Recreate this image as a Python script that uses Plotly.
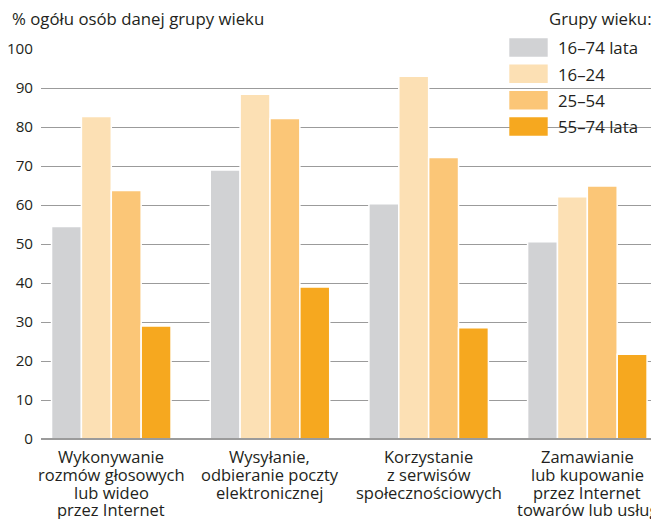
import plotly.graph_objects as go

# data
categories = [
    "Wykonywanie<br>rozmów głosowych<br>lub wideo<br>przez Internet",
    "Wysyłanie,<br>odbieranie poczty<br>elektronicznej",
    "Korzystanie<br>z serwisów<br>społecznościowych",
    "Zamawianie<br>lub kupowanie<br>przez Internet<br>towarów lub usług",
]
series_names = ["16–74 lata", "16–24", "25–54", "55–74 lata"]
vals_16_74 = [54.5, 69.0, 60.3, 50.6]
vals_16_24 = [82.7, 88.4, 93.0, 62.1]
vals_25_54 = [63.7, 82.2, 72.2, 64.9]
vals_55_74 = [29.0, 39.0, 28.5, 21.7]
series_values = [vals_16_74, vals_16_24, vals_25_54, vals_55_74]
y_ticks = [0, 10, 20, 30, 40, 50, 60, 70, 80, 90, 100]

colors = ["#d1d2d4", "#fce0b4", "#fbc677", "#f6a81f"]
TEXT = "#231f20"
FONT = "Open Sans"

# page has an 8px body margin, so the figure is a bit smaller than the window
OFF = 8
PLOT_L, PLOT_R, PLOT_T, PLOT_B = 41, 657, 49, 439  # plot area in window pixels


def px(sx):
    return (sx - PLOT_L) / (PLOT_R - PLOT_L)


def py(sy):
    return 1 - (sy - PLOT_T) / (PLOT_B - PLOT_T)


fig = go.Figure()

for name, vals, col in zip(series_names, series_values, colors):
    fig.add_trace(go.Bar(
        x=list(range(len(categories))),
        y=vals,
        name=name,
        marker=dict(color=col, line=dict(color="white", width=1.5)),
        showlegend=False,
    ))

# custom legend with big swatches (top right)
fig.add_annotation(
    x=px(654), y=py(18.5), xref="paper", yref="paper",
    text="Grupy wieku:", showarrow=False, xanchor="right", yanchor="middle",
    font=dict(size=16.8, color=TEXT, family=FONT),
)
for i, (name, col) in enumerate(zip(series_names, colors)):
    y_top = 38.3 + i * 26.3
    fig.add_shape(
        type="rect", xref="paper", yref="paper",
        x0=px(509.3), x1=px(547.7),
        y0=py(y_top + 18.5), y1=py(y_top),
        fillcolor=col, line=dict(width=0), layer="above",
    )
    fig.add_annotation(
        x=px(556), y=py(y_top + 9.5),
        xref="paper", yref="paper", text=name, showarrow=False,
        xanchor="left", yanchor="middle",
        font=dict(size=16.8, color=TEXT, family=FONT),
    )

# y axis title as annotation
fig.add_annotation(
    x=px(10), y=py(18.5), xref="paper", yref="paper",
    text="% ogółu osób danej grupy wieku", showarrow=False,
    xanchor="left", yanchor="middle",
    font=dict(size=16.8, color=TEXT, family=FONT),
)

# category labels, one line at a time for tight leading
for i, cat in enumerate(categories):
    for j, line in enumerate(cat.split("<br>")):
        fig.add_annotation(
            x=i, y=py(456.5 + j * 17.8), xref="x", yref="paper",
            text=line, showarrow=False, xanchor="center", yanchor="middle",
            font=dict(size=16.5, color=TEXT, family=FONT),
        )

fig.update_xaxes(
    range=[-0.443, 3.439],
    showgrid=False,
    zeroline=False,
    showline=False,
    showticklabels=False,
    ticks="",
    automargin=False,
)
fig.update_yaxes(
    range=[0, 100],
    tickvals=y_ticks,
    showgrid=True,
    gridcolor="#9b9b9b",
    gridwidth=1,
    zeroline=True,
    zerolinecolor="#9b9b9b",
    zerolinewidth=2,
    zerolinelayer="above traces",
    ticks="",
    ticklabelstandoff=7,
    tickfont=dict(size=15.2, color=TEXT, family=FONT),
    automargin=False,
)

fig.update_layout(
    barmode="group",
    bargap=0.247,
    bargroupgap=0,
    width=659 - OFF,
    height=519 - OFF,
    margin=dict(l=PLOT_L - OFF, r=659 - PLOT_R, t=PLOT_T - OFF, b=519 - PLOT_B),
    plot_bgcolor="white",
    paper_bgcolor="white",
    font=dict(family=FONT, color=TEXT),
)

fig.write_html("out.html")
